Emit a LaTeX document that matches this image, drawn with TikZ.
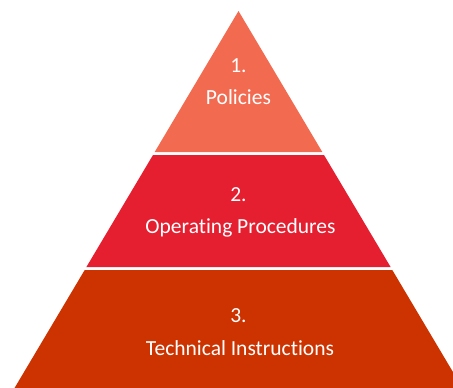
\documentclass[tikz,border=0pt]{standalone}
\usepackage{fontspec}
\setmainfont[Ligatures={NoCommon}]{Carlito}
\definecolor{tierone}{RGB}{242,106,80}
\definecolor{tiertwo}{RGB}{229,30,48}
\definecolor{tierthree}{RGB}{204,51,0}
\tikzset{
  tiertext/.style={text=white, anchor=base, inner sep=0pt, font=\fontsize{21.5}{25}\selectfont}
}
\begin{document}
\begin{tikzpicture}[x=1pt, y=-1pt]
	\useasboundingbox (0,0) rectangle (453,388);
	\clip (0,0) rectangle (453,388);

	% apex at (238.5,11), sides drop 0.594 per unit
	\fill[tierone] (238.5,11) -- (322.3,152) -- (154.7,152) -- cycle;
	\fill[tiertwo] (153,155) -- (324,155) -- (390.6,267) -- (86.4,267) -- cycle;
	\fill[tierthree] (84.7,270) -- (392.3,270) -- (469.6,400) -- (7.4,400) -- cycle;

	\node[tiertext] (num1) at (238.5,72.7) {1.};
	\node[tiertext] (name1) at (238.5,104.3) {Policies};
	\node[tiertext] (num2) at (238.5,201.7) {2.};
	\node[tiertext] (name2) at (240.5,233.3) {Operating Procedures};
	\node[tiertext] (num3) at (238.5,322.7) {3.};
	\node[tiertext] (name3) at (240,355.7) {Technical Instructions};
\end{tikzpicture}
\end{document}
